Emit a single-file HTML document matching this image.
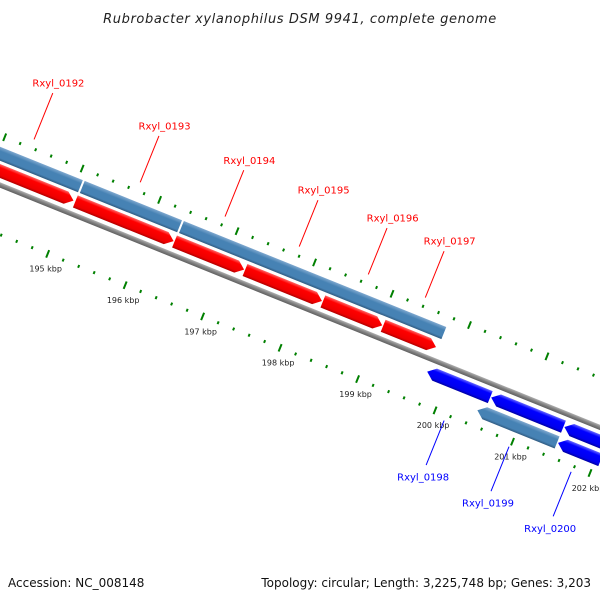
<!DOCTYPE html>
<html><head><meta charset="utf-8">
<style>
html,body{margin:0;padding:0;background:#fff;}
svg{display:block;font-family:"DejaVu Sans","Liberation Sans",sans-serif;}
</style></head>
<body>
<svg id="map" width="600" height="600" viewBox="0 0 600 600">
<defs>
<linearGradient id="gRed" x1="0" y1="0" x2="0" y2="1"><stop offset="0" stop-color="#ff6666"/><stop offset="0.25" stop-color="#ff0000"/><stop offset="0.8" stop-color="#ee0000"/><stop offset="1" stop-color="#b00000"/></linearGradient>
<linearGradient id="gBlue" x1="0" y1="0" x2="0" y2="1"><stop offset="0" stop-color="#6666ff"/><stop offset="0.25" stop-color="#0000ff"/><stop offset="0.8" stop-color="#0000ee"/><stop offset="1" stop-color="#0000a0"/></linearGradient>
<linearGradient id="gSteel" x1="0" y1="0" x2="0" y2="1"><stop offset="0" stop-color="#7fa8cf"/><stop offset="0.3" stop-color="#4682b4"/><stop offset="0.8" stop-color="#4682b4"/><stop offset="1" stop-color="#2f5a80"/></linearGradient>
<linearGradient id="gGray" x1="0" y1="0" x2="0" y2="1"><stop offset="0" stop-color="#b0b0b0"/><stop offset="0.5" stop-color="#808080"/><stop offset="1" stop-color="#606060"/></linearGradient>
</defs>
<text x="300" y="23" text-anchor="middle" font-size="13" font-style="italic" fill="#222" letter-spacing="0.6">Rubrobacter xylanophilus DSM 9941, complete genome</text>
<g id="track" transform="translate(0,185) rotate(22)"></g>
<g id="labels"></g>
<text x="8" y="587" font-size="12" fill="#111">Accession: NC_008148</text>
<text x="591" y="587" text-anchor="end" font-size="12" fill="#111">Topology: circular; Length: 3,225,748 bp; Genes: 3,203</text>
</svg>
<script>
const fwdNames = ["Rxyl_0192","Rxyl_0193","Rxyl_0194","Rxyl_0195","Rxyl_0196","Rxyl_0197"];
const fwdStart = [193624,195072,196352,197262,198267,199045];
const fwdEnd   = [195048,196340,197250,198255,199033,199727];
const cdsStart = [193444,195084,196364];
const cdsEnd   = [195060,196340,199751];
const rev1Names = ["Rxyl_0198","",""];
const rev1Start = [199739,200565,201510];
const rev1End   = [200553,201498,202540];
const rev2Names = ["Rxyl_0199","Rxyl_0200"];
const rev2Start = [200469,201510];
const rev2End   = [201498,202061];
const rev2Type  = ["steel","blue"];
const tickStartKbp = 193.4, tickEndKbp = 203.8;

const NS="http://www.w3.org/2000/svg";
const track=document.getElementById('track'), labels=document.getElementById('labels');
const ANG=22*Math.PI/180, C=Math.cos(ANG), S=Math.sin(ANG);
function uOf(bp){return 70+(bp/1000-195)*83.56;}
function toXY(u,v){return [u*C-v*S, 185+u*S+v*C];}
function mk(tag,attrs,parent){const e=document.createElementNS(NS,tag);for(const k in attrs)e.setAttribute(k,attrs[k]);parent.appendChild(e);return e;}
const H=6.5, HEAD=8;
function feature(s,e,v,dir,fill,name){
  const a=uOf(s), b=uOf(e); let d;
  if(dir>0) d=`M${a},${v-H}L${b-HEAD},${v-H}L${b},${v}L${b-HEAD},${v+H}L${a},${v+H}Z`;
  else if(dir<0) d=`M${a},${v}L${a+HEAD},${v-H}L${b},${v-H}L${b},${v+H}L${a+HEAD},${v+H}Z`;
  else d=`M${a},${v-H}L${b},${v-H}L${b},${v+H}L${a},${v+H}Z`;
  const p=mk('path',{d:d,fill:fill},track);
  
  
}
// backbone
const bb=mk('rect',{x:-100,y:-2.5,width:1000,height:5,fill:'url(#gGray)'},track);


// ticks
for(let k=Math.round(tickStartKbp*5);k<=Math.round(tickEndKbp*5);k++){
  const kbp=k/5, u=70+(kbp-195)*83.56, major=(k%5===0);
  const len=major?8:3;
  [-46,46].forEach(v=>{
    const t=mk('line',{x1:u,x2:u,y1:v-len/2,y2:v+len/2,stroke:'#008000','stroke-width':2},track);
    
    
  });
  if(major){
    const [x,y]=toXY(u,62);
    const tx=mk('text',{x:x+4,y:y+3,'text-anchor':'middle','font-size':8,fill:'#222'},labels);
    tx.textContent=kbp+' kbp';
    
    
  }
}
for(let i=0;i<cdsStart.length;i++) feature(cdsStart[i],cdsEnd[i],-29,0,'url(#gSteel)','cds-band');
for(let i=0;i<fwdStart.length;i++) feature(fwdStart[i],fwdEnd[i],-13,1,'url(#gRed)','gene-'+fwdNames[i].toLowerCase().replace('_','-'));
for(let i=0;i<rev1Start.length;i++) feature(rev1Start[i],rev1End[i],13,-1,'url(#gBlue)','reverse-gene');
for(let i=0;i<rev2Start.length;i++) feature(rev2Start[i],rev2End[i],30,-1,rev2Type[i]==='steel'?'url(#gSteel)':'url(#gBlue)','reverse-gene');
function geneLabel(name,s,e,up,color){
  const u=(uOf(s)+uOf(e))/2;
  const v1=up?-55:52, v2=up?-105:100, vt=up?-112:108;
  const [x1,y1]=toXY(u,v1),[x2,y2]=toXY(u,v2),[xt,yt]=toXY(u,vt);
  const l=mk('line',{x1:x1,y1:y1,x2:x2,y2:y2,stroke:color,'stroke-width':1},labels);
  
  
  const t=mk('text',{x:xt+(up?3:0),y:yt+(up?0:8),'text-anchor':'middle','font-size':10,fill:color},labels);
  t.textContent=name;
  
  
}
for(let i=0;i<fwdNames.length;i++) geneLabel(fwdNames[i],fwdStart[i],fwdEnd[i],true,'#ff0000');
for(let i=0;i<rev1Names.length;i++) if(rev1Names[i]) geneLabel(rev1Names[i],rev1Start[i],rev1End[i],false,'#0000ff');
for(let i=0;i<rev2Names.length;i++) geneLabel(rev2Names[i],rev2Start[i],rev2End[i],false,'#0000ff');
</script>
</body></html>
